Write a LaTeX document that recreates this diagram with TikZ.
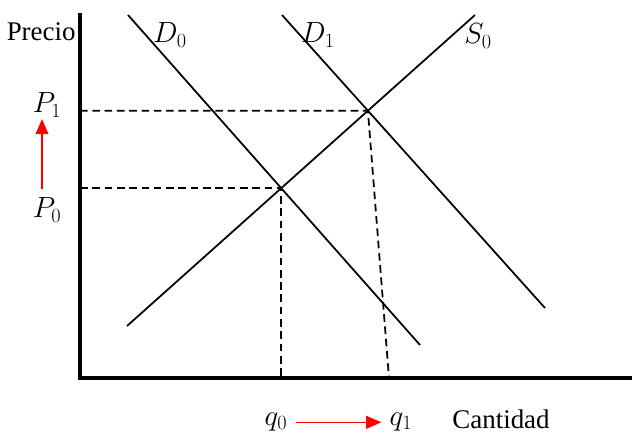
\documentclass[tikz,border=0pt]{standalone}
\usepackage{fontspec}
\setmainfont{Liberation Serif}
\usepackage{tikz}
\usetikzlibrary{arrows.meta}
\usetikzlibrary{intersections,positioning}

\begin{document}
\begin{tikzpicture}[x=0.03cm, y=-0.03cm,
    axis/.style={line width=3pt},
    curve/.style={line width=1.5pt},
    guide/.style={line width=1.5pt, dash pattern=on 6.5pt off 4pt},
    shift arrow/.style={red, line width=1.2pt, -{Triangle[length=13pt, width=11pt]}},
    lbl/.style={font=\fontsize{23}{26}\selectfont, inner sep=1pt},
    mlbl/.style={font=\fontsize{24}{27}\selectfont, inner sep=1pt}]

        \useasboundingbox (0,0) rectangle (632,434);

        % Axes
        \coordinate (origin) at (80,378);
        \coordinate (ytop) at (80,13);
        \coordinate (xend) at (632,378);
        \draw[axis] (ytop) -- (origin) -- (xend);
        \node[lbl, anchor=east] (precio) at (77,32) {Precio};
        \node[lbl] (cantidad) at (501,419) {Cantidad};

        % Demand and supply curves
        \draw[curve, name path=d0] (128,15) -- (420,345);
        \draw[curve, name path=d1] (282,15) -- (545,308);
        \draw[curve, name path=s0] (127,326) -- (475,15);
        \node[mlbl] (d0_label) at (170,35) {$D_0$};
        \node[mlbl] (d1_label) at (318,35) {$D_1$};
        \node[mlbl] (s0_label) at (478,36) {$S_0$};

        % Equilibria
        \path[name intersections={of=d0 and s0, by=eq0}];
        \path[name intersections={of=d1 and s0, by=eq1}];
        \coordinate (p0) at (origin |- eq0);
        \coordinate (p1) at (origin |- eq1);
        \coordinate (q0) at (eq0 |- origin);
        \coordinate (q1) at (389,378);
        \draw[guide] (p0) -- (eq0) -- (q0);
        \draw[guide] (p1) -- (eq1) -- (q1);

        % Price and quantity labels
        \node[mlbl] (p1_label) at (47,105) {$P_1$};
        \node[mlbl] (p0_label) at (47,210) {$P_0$};
        \node[mlbl, anchor=base] (q0_label) at (276,425) {$q_0$};
        \node[mlbl, anchor=base] (q1_label) at (401,425) {$q_1$};
        \coordinate (p_from) at (42,189);
        \coordinate (p_to) at (42,119);
        \draw[shift arrow] (p_from) -- (p_to);
        \draw[shift arrow, shorten <=6pt, shorten >=6pt] (q0_label.mid east) -- (q1_label.mid west);
    \end{tikzpicture}
\end{document}
